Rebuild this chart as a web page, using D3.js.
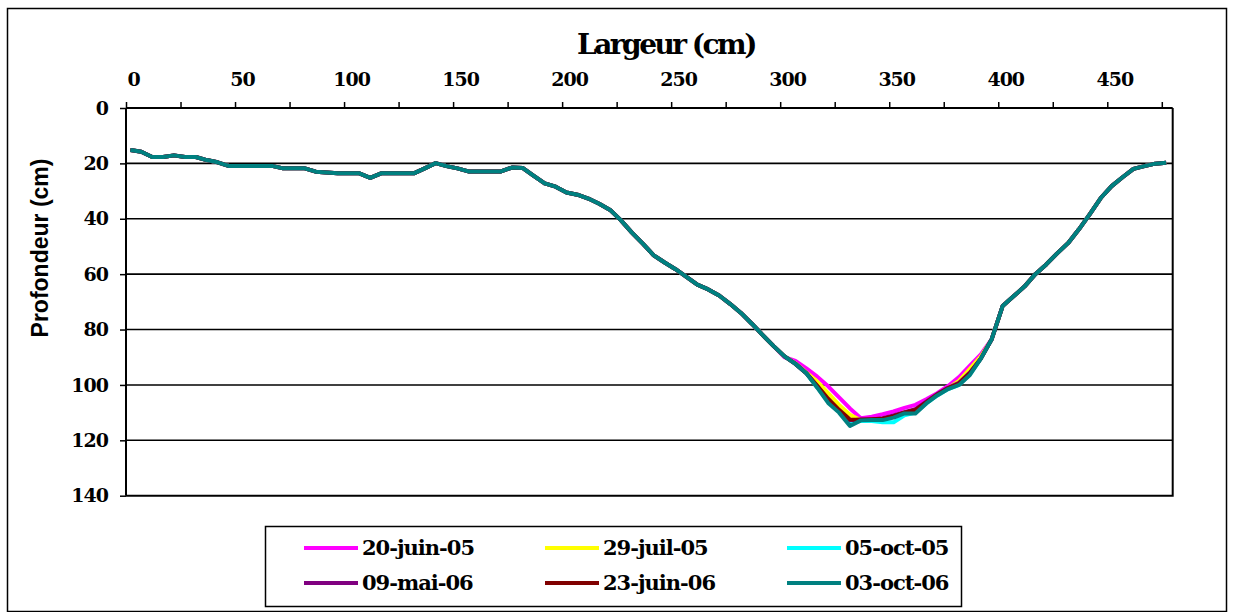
<!DOCTYPE html>
<html>
<head>
<meta charset="utf-8">
<script src="https://cdn.jsdelivr.net/npm/d3@7"></script>
<style>
  html, body { margin: 0; padding: 0; background: #fff; }
  svg { display: block; }
</style>
</head>
<body>
<svg id="chart" width="1234" height="612"></svg>
<script>
// ---------- DATA ----------
const seriesNames = ["20-juin-05", "29-juil-05", "05-oct-05", "09-mai-06", "23-juin-06", "03-oct-06"];
const seriesColors = ["#FF00FF", "#FFFF00", "#00FFFF", "#800080", "#800000", "#008080"];

// horizontal positions of the profile points (cm)
const widthCm = [2,7,12,17,22,27,32,37,42,47,52,57,62,67,72,77,82,87,92,97,
  102,107,112,117,122,127,132,137,142,147,152,157,162,167,172,177,182,187,192,197,
  202,207,212,217,222,227,232,237,242,247,252,257,262,267,272,277,282,287,292,297,
  302,307,312,317,322,327,332,337,342,347,352,357,362,367,372,377,382,387,392,397,
  402,407,412,417,422,427,432,437,442,447,452,457,462,467,472,477];

// 03-oct-06 depth profile (cm), common to all dates outside the trough
const depth_03oct06 = [15.2,15.8,17.7,17.7,17.1,17.7,17.7,18.8,19.6,20.9,20.9,20.9,20.9,20.9,21.8,21.8,21.8,23.0,23.3,23.6,
  23.6,23.6,25.2,23.6,23.6,23.6,23.6,21.8,19.9,21.0,21.8,22.9,22.9,22.9,22.9,21.5,21.7,24.5,27.2,28.4,
  30.5,31.3,32.7,34.6,36.8,40.6,45.0,49.0,53.2,55.8,58.2,61.0,63.8,65.5,67.7,70.7,74.0,77.9,82.0,86.0,
  89.7,92.4,95.8,101.0,106.5,110.0,114.8,112.8,112.7,112.7,111.8,110.3,110.3,106.7,103.8,101.5,100.0,96.4,90.5,83.5,
  71.5,68.0,64.5,60.0,56.5,52.5,48.8,43.8,38.3,32.5,28.2,25.0,22.0,21.0,20.1,19.8];

// trough section where the dates differ (cm)
const troughX = [302,307,312,317,322,327,332,337,342,347,352,357,362,367,372,377,382,387,392];
const trough_20juin05 = [90.0,91.3,94.0,97.0,100.5,104.5,108.5,112.0,111.5,110.6,109.6,108.3,107.2,105.2,103.0,100.4,97.2,93.0,89.0];
const trough_29juil05 = [89.7,92.2,95.5,98.8,103.0,107.2,110.8,112.8,112.6,112.4,111.5,110.0,109.0,106.3,103.5,101.2,98.5,94.2,89.8];
const trough_05oct05  = [89.7,92.4,95.8,100.8,106.0,109.5,113.5,113.0,113.0,113.5,113.5,111.0,110.0,106.7,103.8,101.5,100.0,96.2,90.5];
const trough_09mai06  = [89.7,92.4,95.8,100.5,105.5,109.5,112.8,112.5,112.5,112.0,111.0,109.8,108.8,106.0,103.3,101.0,99.2,95.5,90.5];
const trough_23juin06 = [89.7,92.4,95.8,100.3,105.0,109.0,112.5,112.6,112.4,112.2,111.3,110.0,109.0,106.3,103.5,101.2,99.5,95.8,90.5];

const xTicks = [0,25,50,75,100,125,150,175,200,225,250,275,300,325,350,375,400,425,450,475];
const yTicks = [0,20,40,60,80,100,120,140];

// ---------- BUILD SERIES ----------
function buildSeries(trough) {
  return widthCm.map((x, i) => {
    const j = troughX.indexOf(x);
    return { x: x, y: (trough && j >= 0) ? trough[j] : depth_03oct06[i] };
  });
}
const troughs = [trough_20juin05, trough_29juil05, trough_05oct05, trough_09mai06, trough_23juin06, null];
const series = seriesNames.map((n, k) => ({ name: n, color: seriesColors[k], values: buildSeries(troughs[k]) }));

// ---------- CHART ----------
const svg = d3.select("#chart");
const serif = "'DejaVu Serif', serif";
const sans = "'Liberation Sans', Arial, sans-serif";

// outer border
svg.append("rect").attr("x", 7.5).attr("y", 8.5).attr("width", 1219).attr("height", 603)
  .attr("fill", "#fff").attr("stroke", "#000").attr("stroke-width", 1.5);

const x = d3.scaleLinear().domain([0, 480]).range([126, 1172.7]);
const y = d3.scaleLinear().domain([0, 140]).range([108, 495.7]);

// gridlines
svg.append("g").selectAll("line").data([20,40,60,80,100,120]).join("line")
  .attr("x1", x(0)).attr("x2", x(480)).attr("y1", d => y(d)).attr("y2", d => y(d))
  .attr("stroke", "#000").attr("stroke-width", 1.6);

// right and bottom border of plot area
svg.append("path")
  .attr("d", `M${x(0)},${y(140)}H${x(480)}V${y(0)}`)
  .attr("fill", "none").attr("stroke", "#000").attr("stroke-width", 2);

// series lines
const line = d3.line().x(d => x(d.x)).y(d => y(d.y));
svg.append("g").selectAll("path").data(series).join("path")
  .attr("d", d => line(d.values))
  .attr("fill", "none").attr("stroke", d => d.color).attr("stroke-width", 4)
  .attr("stroke-linejoin", "round").attr("stroke-linecap", "butt");

// top axis
const xAxis = d3.axisTop(x).tickValues(xTicks).tickSize(6).tickPadding(16)
  .tickFormat(d => d % 50 === 0 ? d : "");
const gx = svg.append("g").attr("transform", `translate(0,${y(0)})`).call(xAxis);
gx.attr("font-family", serif);
gx.select(".domain").attr("stroke", "#000").attr("stroke-width", 2).attr("d", `M${x(0)},0H${x(480)}`);
gx.selectAll(".tick line").attr("stroke", "#000").attr("stroke-width", 1.5);
gx.selectAll("text").style("font-family", serif).attr("font-weight", "bold").attr("font-size", 19)
  .attr("letter-spacing", -1).attr("fill", "#000").attr("dx", 7);

// left axis
const yAxis = d3.axisLeft(y).tickValues(yTicks).tickSize(6).tickPadding(12);
const gy = svg.append("g").attr("transform", `translate(${x(0)},0)`).call(yAxis);
gy.attr("font-family", serif);
gy.select(".domain").attr("stroke", "#000").attr("stroke-width", 2).attr("d", `M0,${y(0)}V${y(140)}`);
gy.selectAll(".tick line").attr("stroke", "#000").attr("stroke-width", 1.5);
gy.selectAll("text").style("font-family", serif).attr("font-weight", "bold").attr("font-size", 19)
  .attr("letter-spacing", -1).attr("fill", "#000");

// axis titles
svg.append("text").attr("x", 666).attr("y", 54).attr("text-anchor", "middle")
  .style("font-family", serif).attr("font-weight", "bold").attr("font-size", 28)
  .attr("letter-spacing", -2.5).text("Largeur (cm)");
svg.append("text").attr("transform", "translate(48,248) rotate(-90)").attr("text-anchor", "middle")
  .style("font-family", sans).attr("font-weight", "bold").attr("font-size", 23)
  .text("Profondeur (cm)");

// legend
svg.append("rect").attr("x", 265.5).attr("y", 526.5).attr("width", 696).attr("height", 80)
  .attr("fill", "#fff").attr("stroke", "#000").attr("stroke-width", 1.5);
const legCols = [304, 545, 787];
const legRows = [548, 583];
const leg = svg.append("g").selectAll("g").data(series).join("g")
  .attr("transform", (d, i) => `translate(${legCols[i % 3]},${legRows[Math.floor(i / 3)]})`);
leg.append("line").attr("x1", 0).attr("x2", 54).attr("y1", 0).attr("y2", 0)
  .attr("stroke", d => d.color).attr("stroke-width", 4);
leg.append("text").attr("x", 58).attr("y", 0).attr("dy", "0.35em")
  .style("font-family", serif).attr("font-weight", "bold").attr("font-size", 21)
  .attr("letter-spacing", -1).text(d => d.name);
</script>
</body>
</html>
